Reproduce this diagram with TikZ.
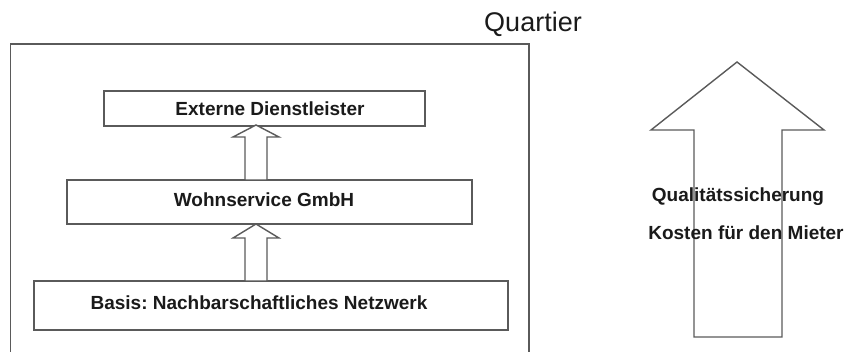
\documentclass[tikz,border=0pt]{standalone}
\usepackage{fontspec}
\setmainfont{Liberation Sans}
\frenchspacing
\definecolor{linegray}{HTML}{5A5A5A}
\definecolor{txt}{HTML}{1A1A1A}
\begin{document}
\begin{tikzpicture}[x=1pt,y=-1pt,
  frame/.style={draw=linegray, line width=1.4pt},
  box/.style={frame, rectangle, inner sep=0pt},
  hollow/.style={frame, fill=white, line join=miter},
  lbl/.style={font=\fontsize{19}{22}\selectfont\bfseries, text=txt, inner sep=0pt, anchor=base},
  title/.style={font=\fontsize{27}{30}\selectfont, text=txt, inner sep=0pt, anchor=base}
]
\useasboundingbox (0,0) rectangle (846,352);

% outer frame (open at the bottom)
\coordinate (fbl) at (10.7,352);
\coordinate (ftl) at (10.7,44);
\coordinate (ftr) at (529,44);
\coordinate (fbr) at (529,352);
\draw[frame] (fbl) -- (ftl) -- (ftr) -- (fbr);

\node[title] (quartier) at (533,32) {Quartier};

% boxes
\node[box, minimum width=321pt, minimum height=35pt] (ext)   at (264.5,108.5) {};
\node[box, minimum width=405pt, minimum height=44pt] (wohn)  at (269.5,202) {};
\node[box, minimum width=474pt, minimum height=49pt] (basis) at (271,305.5) {};

\node[lbl] (extl)   at (270,116) {Externe Dienstleister};
\node[lbl] (wohnl)  at (264,207) {Wohnservice GmbH};
\node[lbl] (basisl) at (259,310) {Basis: Nachbarschaftliches Netzwerk};

% small hollow arrows
\draw[hollow] (245,180) -- (245,137) -- (233,137) -- (256,125) -- (279,137) -- (267,137) -- (267,180) -- cycle;
\draw[hollow] (245,281) -- (245,238) -- (233,238) -- (256,224) -- (279,238) -- (267,238) -- (267,281) -- cycle;

% big arrow
\draw[frame, line join=miter] (694,337) -- (694,130) -- (651,130) -- (737,62) -- (824,130) -- (782,130) -- (782,337) -- cycle;

\node[lbl] (qual)   at (738,202) {Qualitätssicherung};
\node[lbl] (kosten) at (746,240) {Kosten für den Mieter};
\end{tikzpicture}
\end{document}
